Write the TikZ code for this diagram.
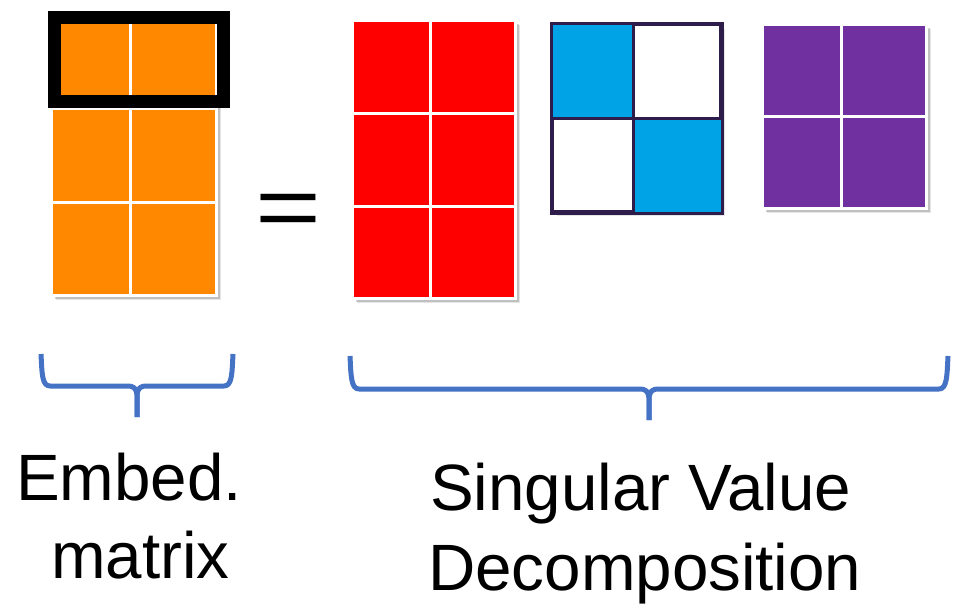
\documentclass[tikz,border=0pt]{standalone}
\usepackage{fontspec}
\setmainfont{Liberation Sans}
\usetikzlibrary{shadows,calc}

\definecolor{embOrange}{HTML}{FF8800}
\definecolor{uRed}{HTML}{FF0000}
\definecolor{sBlue}{HTML}{00A3E6}
\definecolor{sEdge}{HTML}{2E1C4A}
\definecolor{vPurple}{HTML}{7030A0}
\definecolor{braceBlue}{HTML}{4472C4}

\tikzset{
  softshadow/.style={
    drop shadow={shadow xshift=1.5pt,shadow yshift=-1.5pt,opacity=.16,fill=black},
    drop shadow={shadow xshift=3pt,shadow yshift=-3pt,opacity=.16,fill=black},
    drop shadow={shadow xshift=4.5pt,shadow yshift=-4.5pt,opacity=.10,fill=black}},
  mat/.style={rectangle, inner sep=0pt, line width=3pt, draw=white, softshadow},
  gridline/.style={white, line width=3pt},
  diagline/.style={sEdge, line width=3pt},
  highlight/.style={rectangle, inner sep=0pt, draw=black, line width=13pt},
  brace/.style={braceBlue, line width=5pt, line cap=butt, line join=round},
  lbl/.style={inner sep=0pt, font=\fontsize{65.5}{66}\selectfont},
}

\begin{document}
\begin{tikzpicture}[x=1pt, y=-1pt]
  \useasboundingbox (0,0) rectangle (960,606);

  % embedding matrix (3 x 2)
  \node[mat, fill=embOrange, minimum width=165pt, minimum height=280pt] (E) at (134,155.5) {};
  \draw[gridline] ($(E.north west)!0.48!(E.north east)$) -- ($(E.south west)!0.48!(E.south east)$);
  \draw[gridline] ($(E.north west)!0.333!(E.south west)$) -- ($(E.north east)!0.333!(E.south east)$);
  \draw[gridline] ($(E.north west)!0.667!(E.south west)$) -- ($(E.north east)!0.667!(E.south east)$);

  % selected row
  \node[highlight, minimum width=169pt, minimum height=84pt] (H) at (139,59.5) {};

  % equals sign
  \node[inner sep=0pt, anchor=north, font=\fontsize{113}{113}\selectfont] (eq) at (288.5,194) {\scalebox{1}[0.78]{=}};

  % U (3 x 2)
  \node[mat, fill=uRed, minimum width=163pt, minimum height=278pt] (U) at (434,159.5) {};
  \draw[gridline] ($(U.north west)!0.48!(U.north east)$) -- ($(U.south west)!0.48!(U.south east)$);
  \draw[gridline] ($(U.north west)!0.335!(U.south west)$) -- ($(U.north east)!0.335!(U.south east)$);
  \draw[gridline] ($(U.north west)!0.669!(U.south west)$) -- ($(U.north east)!0.669!(U.south east)$);

  % Sigma (2 x 2, diagonal)
  \node[rectangle, inner sep=0pt, line width=3pt, draw=sEdge, fill=white, softshadow,
        minimum width=168pt, minimum height=187pt] (S) at (636.5,118) {};
  \coordinate (Sc) at ($(S.north west)!0.48!(S.north east)$);
  \coordinate (Sm) at ($(S.north west)!0.5!(S.south west)$);
  \coordinate (Sx) at (Sc |- Sm);
  \fill[sBlue] (S.north west) rectangle (Sx);
  \fill[sBlue] (Sx) rectangle (S.south east);
  \draw[diagline] (Sc) -- (Sc |- S.south);
  \draw[diagline] (Sm) -- (Sm -| S.east);
  \draw[diagline] (S.north west) rectangle (S.south east);

  % V^T (2 x 2)
  \node[mat, fill=vPurple, minimum width=164pt, minimum height=184pt] (V) at (844.5,116.5) {};
  \draw[gridline] ($(V.north west)!0.48!(V.north east)$) -- ($(V.south west)!0.48!(V.south east)$);
  \draw[gridline] ($(V.north west)!0.5!(V.south west)$) -- ($(V.north east)!0.5!(V.south east)$);

  % brace under the embedding matrix
  \coordinate (la) at (41,354);
  \coordinate (lb) at (233,354);
  \coordinate (lt) at (137,417);
  \draw[brace] (la) .. controls (42,374) and (42,386) .. (50,386) -- (127,386)
       .. controls (134,386) and (136,388) .. (137,395) -- (lt);
  \draw[brace] (lb) .. controls (232,374) and (232,386) .. (224,386) -- (147,386)
       .. controls (140,386) and (138,388) .. (137,395) -- (lt);

  % brace under the decomposition
  \coordinate (ra) at (350,356);
  \coordinate (rb) at (948,356);
  \coordinate (rt) at (649,420);
  \draw[brace] (ra) .. controls (351,376) and (351,389) .. (359,389) -- (639,389)
       .. controls (646,389) and (648,391) .. (649,398) -- (rt);
  \draw[brace] (rb) .. controls (947,376) and (947,389) .. (939,389) -- (659,389)
       .. controls (652,389) and (650,391) .. (649,398) -- (rt);

  % labels
  \node[lbl, anchor=base west] (t1) at (16,500) {Embed.};
  \node[lbl, anchor=base west] (t2) at (51,578) {matrix};
  \node[lbl, anchor=base west] (t3) at (430,510) {Singular Value};
  \node[lbl, anchor=base west] (t4) at (428,590) {Decomposition};
\end{tikzpicture}
\end{document}
